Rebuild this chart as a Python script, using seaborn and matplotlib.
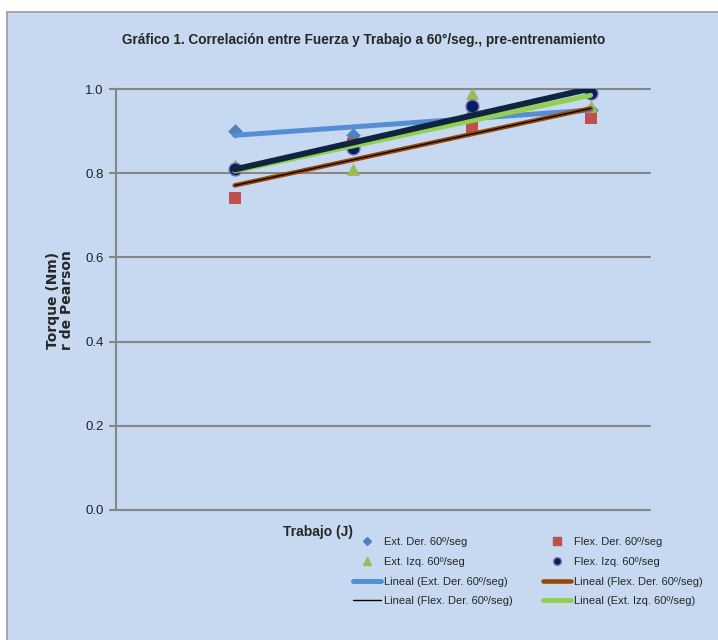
import matplotlib
matplotlib.use("Agg")
import matplotlib.pyplot as plt
from matplotlib.lines import Line2D
from matplotlib.patches import Rectangle
import numpy as np
import pandas as pd
import seaborn as sns

# Data
trabajo = [1, 2, 3, 4]
ext_der = [0.90, 0.89, 0.94, 0.95]
flex_der = [0.74, 0.87, 0.91, 0.93]
ext_izq = [0.82, 0.81, 0.99, 0.96]
flex_izq = [0.81, 0.86, 0.96, 0.99]
y_ticks = [0.0, 0.2, 0.4, 0.6, 0.8, 1.0]

title = "Gráfico 1. Correlación entre Fuerza y Trabajo a 60°/seg., pre-entrenamiento"
labels = {
    "ext_der": "Ext. Der. 60º/seg",
    "flex_der": "Flex. Der. 60º/seg",
    "ext_izq": "Ext. Izq. 60º/seg",
    "flex_izq": "Flex. Izq. 60º/seg",
}

df = pd.DataFrame({
    "trabajo": trabajo,
    "ext_der": ext_der,
    "flex_der": flex_der,
    "ext_izq": ext_izq,
    "flex_izq": flex_izq,
})

sns.set_theme(style="white")
sans = ["Liberation Sans", "DejaVu Sans"]
plt.rcParams["font.family"] = sans

W, H = 718, 640
fig = plt.figure(figsize=(W / 100, H / 100), dpi=100)
fig.patch.set_facecolor("white")

bg = "#C6D9F1"
# chart area panel behind everything
panel = Rectangle((7 / W, -0.01), 1 - 7 / W + 0.01, 1 - 12 / H + 0.01,
                  transform=fig.transFigure, facecolor=bg,
                  edgecolor="#A6A6A6", linewidth=1.4, zorder=-10)
fig.add_artist(panel)

ax = fig.add_axes([116 / W, 1 - 510 / H, (650 - 116) / W, (510 - 89) / H])
ax.set_facecolor("none")
ax.set_zorder(1)

# markers
sns.scatterplot(data=df, x="trabajo", y="ext_der", ax=ax, marker="D", s=55,
                color="#4F81BD", edgecolor="#4F81BD", linewidth=0, zorder=2)
sns.scatterplot(data=df, x="trabajo", y="flex_der", ax=ax, marker="s", s=80,
                color="#C0504D", edgecolor="#C0504D", linewidth=0, zorder=2)
sns.scatterplot(data=df, x="trabajo", y="ext_izq", ax=ax, marker="^", s=85,
                color="#9BBB59", edgecolor="#9BBB59", linewidth=0, zorder=2)
sns.scatterplot(data=df, x="trabajo", y="flex_izq", ax=ax, marker="o", s=85,
                color="#002060", edgecolor="#7F6AB0", linewidth=1.0, zorder=2)

# linear trend lines
sns.regplot(data=df, x="trabajo", y="ext_der", ax=ax, scatter=False, ci=None,
            line_kws=dict(color="#558ED5", linewidth=3.6, solid_capstyle="round", zorder=3))
sns.regplot(data=df, x="trabajo", y="flex_der", ax=ax, scatter=False, ci=None,
            line_kws=dict(color="#984807", linewidth=3.3, solid_capstyle="round", zorder=3))
sns.regplot(data=df, x="trabajo", y="flex_der", ax=ax, scatter=False, ci=None,
            line_kws=dict(color="black", linewidth=0.9, zorder=3))
sns.regplot(data=df, x="trabajo", y="ext_izq", ax=ax, scatter=False, ci=None,
            line_kws=dict(color="#92D050", linewidth=3.6, solid_capstyle="round", zorder=3))
sns.regplot(data=df, x="trabajo", y="flex_izq", ax=ax, scatter=False, ci=None,
            line_kws=dict(color="#0F243E", linewidth=4.3, solid_capstyle="round", zorder=3))

ax.set_xlim(0, 4.5)
ax.set_ylim(0, 1.0)
ax.set_yticks(y_ticks)
ax.set_yticklabels([f"{v:.1f}" for v in y_ticks], fontsize=9.5, color="#222222")
ax.set_xticks([])
ax.set_xlabel("")
ax.set_ylabel("")
ax.yaxis.grid(True, color="#868686", linewidth=1.5)
ax.set_axisbelow(True)
for s in ["top", "right", "bottom"]:
    ax.spines[s].set_visible(False)
ax.spines["left"].set_color("#868686")
ax.spines["left"].set_linewidth(1.5)
ax.tick_params(axis="y", length=5, width=1.5, color="#868686", pad=4, left=True)
for line in ax.get_ygridlines():
    line.set_clip_on(False)

fig.text(364 / W, 1 - 40 / H, title, ha="center", va="center",
         fontsize=9.8, fontweight="bold")
fig.text(60 / W, 1 - 300 / H, "Torque (Nm)\nr de Pearson", rotation=90,
         ha="center", va="center", fontsize=10, fontweight="bold",
         linespacing=1.05, family=["DejaVu Sans"])
fig.text(318 / W, 1 - 532 / H, "Trabajo (J)", ha="center", va="center",
         fontsize=10, fontweight="bold")

handles = [
    Line2D([], [], ls="", marker="D", ms=4.5, color="#4F81BD"),
    Line2D([], [], ls="", marker="^", ms=6, color="#9BBB59"),
    Line2D([], [], color="#558ED5", lw=3.6),
    Line2D([], [], color="black", lw=1.0),
    Line2D([], [], ls="", marker="s", ms=6, color="#C0504D"),
    Line2D([], [], ls="", marker="o", ms=5.5, color="#002060", mec="#7F6AB0"),
    Line2D([], [], color="#984807", lw=3.3),
    Line2D([], [], color="#92D050", lw=3.6),
]
texts = [
    labels["ext_der"], labels["ext_izq"],
    "Lineal (" + labels["ext_der"] + ")", "Lineal (" + labels["flex_der"] + ")",
    labels["flex_der"], labels["flex_izq"],
    "Lineal (" + labels["flex_der"] + ")", "Lineal (" + labels["ext_izq"] + ")",
]
fig.legend(handles, texts, ncol=2, loc="upper left",
           bbox_to_anchor=(353 / W, 1 - 537 / H), frameon=False,
           handlelength=2.5, handletextpad=0.25,
           columnspacing=2.8, labelspacing=0.88, borderpad=0, borderaxespad=0,
           prop={"size": 8})

fig.savefig("out.png", dpi=100)
